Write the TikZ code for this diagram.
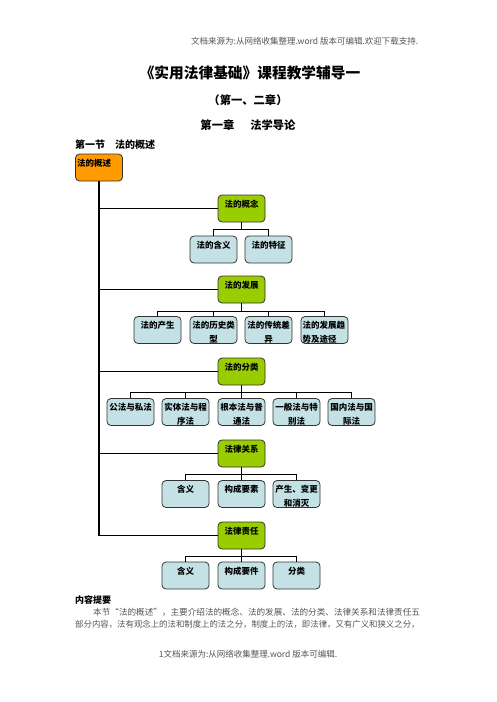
\documentclass[tikz,border=0pt]{standalone}
\usepackage{fontspec}
\setmainfont{Noto Sans CJK SC}
\usepackage{xcolor}
\usepackage{tikz}
\usetikzlibrary{positioning}
\definecolor{korange}{HTML}{FF9A00}
\definecolor{kgreen}{HTML}{9ACD00}
\definecolor{kblue}{HTML}{C4E2E6}
\definecolor{kgray}{HTML}{555555}
\newcommand{\btxt}[1]{\parbox[c][17pt][t]{44pt}{\centering #1}}
\newcommand{\ltxt}[1]{\parbox[c][17pt][t]{44pt}{\raggedright #1}}
\tikzset{
  topbox/.style={draw=black!80, fill=korange, rounded corners=4pt, line width=0.8pt,
    inner xsep=1.5pt, inner ysep=5pt, font=\fontsize{8.5}{13.5}\selectfont\bfseries},
  headbox/.style={topbox, fill=kgreen},
  leafbox/.style={topbox, fill=kblue},
  link/.style={line width=1.8pt}
}
\begin{document}
\begin{tikzpicture}[x=1pt, y=-1pt]
\fill[white] (0,0) rectangle (496,702);
\useasboundingbox (0,0) rectangle (496,702);
\node[font=\fontsize{8.5}{10}\selectfont, text=kgray, anchor=west, inner sep=0pt]
  (yemei) at (191,41) {文档来源为:从网络收集整理.word 版本可编辑.欢迎下载支持.};
\node[font=\fontsize{14.7}{16}\selectfont\bfseries] (biaoti) at (250,73) {《实用法律基础》课程教学辅导一};
\node[font=\fontsize{11.3}{13}\selectfont\bfseries] (fubiaoti) at (248,100) {（第一、二章）};
\node[font=\fontsize{11.3}{13}\selectfont\bfseries] (zhang) at (248,125) {第一章\hspace{16pt}法学导论};
\node[font=\fontsize{10}{12}\selectfont\bfseries, anchor=west, inner sep=0pt]
  (jie) at (75,145) {第一节\hspace{10pt}法的概述};

\node[topbox] (gaishu) at (99,167.5) {\ltxt{法的概述}};

\node[headbox] (gainian) at (241.5,208.5) {\btxt{法的概念}};
\node[leafbox] (hanyi) at (213.5,249.5) {\btxt{法的含义}};
\node[leafbox] (tezheng) at (268.5,249.5) {\btxt{法的特征}};

\node[headbox] (fazhan) at (241.5,289.5) {\btxt{法的发展}};
\node[leafbox] (chansheng) at (157.5,330) {\btxt{法的产生}};
\node[leafbox] (lishi) at (213.5,330) {\btxt{法的历史类\\型}};
\node[leafbox] (chuantong) at (268.5,330) {\btxt{法的传统差\\异}};
\node[leafbox] (qushi) at (324.5,330) {\ltxt{法的发展趋\\势及途径}};

\node[headbox] (fenlei) at (241.5,371.5) {\btxt{法的分类}};
\node[leafbox] (gongsi) at (130.5,412) {\btxt{公法与私法}};
\node[leafbox] (shiti) at (185.5,412) {\btxt{实体法与程\\序法}};
\node[leafbox] (genben) at (241.5,412) {\btxt{根本法与普\\通法}};
\node[leafbox] (yiban) at (296.5,412) {\btxt{一般法与特\\别法}};
\node[leafbox] (guonei) at (351.5,412) {\btxt{国内法与国\\际法}};

\node[headbox] (guanxi) at (241.5,453.5) {\btxt{法律关系}};
\node[leafbox] (gxhanyi) at (185.5,494) {\btxt{含义}};
\node[leafbox] (gxyaosu) at (241.5,494) {\btxt{构成要素}};
\node[leafbox] (gxbiangeng) at (296.5,494) {\btxt{产生、变更\\和消灭}};

\node[headbox] (zeren) at (241.5,535.5) {\btxt{法律责任}};
\node[leafbox] (zrhanyi) at (185.5,575.5) {\btxt{含义}};
\node[leafbox] (zryaojian) at (241.5,575.5) {\btxt{构成要件}};
\node[leafbox] (zrfenlei) at (296.5,575.5) {\btxt{分类}};

\draw[link] (gaishu.south) |- (zeren.west);
\draw[link] (gaishu.south |- gainian.west) -- (gainian.west);
\draw[link] (gaishu.south |- fazhan.west) -- (fazhan.west);
\draw[link] (gaishu.south |- fenlei.west) -- (fenlei.west);
\draw[link] (gaishu.south |- guanxi.west) -- (guanxi.west);

\draw[link] (gainian.south) -- ++(0,7) -| (hanyi.north);
\draw[link] (gainian.south) ++(0,7) -| (tezheng.north);

\draw[link] (fazhan.south) -- ++(0,8) -| (chansheng.north);
\draw[link] (fazhan.south) ++(0,8) -| (lishi.north);
\draw[link] (fazhan.south) ++(0,8) -| (chuantong.north);
\draw[link] (fazhan.south) ++(0,8) -| (qushi.north);

\draw[link] (fenlei.south) -- ++(0,7) -| (gongsi.north);
\draw[link] (fenlei.south) ++(0,7) -| (shiti.north);
\draw[link] (fenlei.south) ++(0,7) -| (genben.north);
\draw[link] (fenlei.south) ++(0,7) -| (yiban.north);
\draw[link] (fenlei.south) ++(0,7) -| (guonei.north);

\draw[link] (guanxi.south) -- ++(0,7) -| (gxhanyi.north);
\draw[link] (guanxi.south) ++(0,7) -| (gxyaosu.north);
\draw[link] (guanxi.south) ++(0,7) -| (gxbiangeng.north);

\draw[link] (zeren.south) -- ++(0,7) -| (zrhanyi.north);
\draw[link] (zeren.south) ++(0,7) -| (zryaojian.north);
\draw[link] (zeren.south) ++(0,7) -| (zrfenlei.north);

\node[font=\fontsize{9}{11}\selectfont\bfseries, anchor=west, inner sep=0pt]
  (tiyao) at (75,600) {内容提要};
\node[font=\fontsize{8.6}{10}\selectfont, text=kgray, anchor=west, inner sep=0pt]
  (hangyi) at (93,612.5) {本节“法的概述”，主要介绍法的概念、法的发展、法的分类、法律关系和法律责任五};
\node[font=\fontsize{8.4}{10}\selectfont, text=kgray, anchor=west, inner sep=0pt]
  (hanger) at (75,624.5) {部分内容，法有观念上的法和制度上的法之分，制度上的法，即法律，又有广义和狭义之分，};
\node[font=\fontsize{8.5}{10}\selectfont, text=kgray] (yejiao) at (248,654) {1文档来源为:从网络收集整理.word 版本可编辑.};
\end{tikzpicture}
\end{document}
